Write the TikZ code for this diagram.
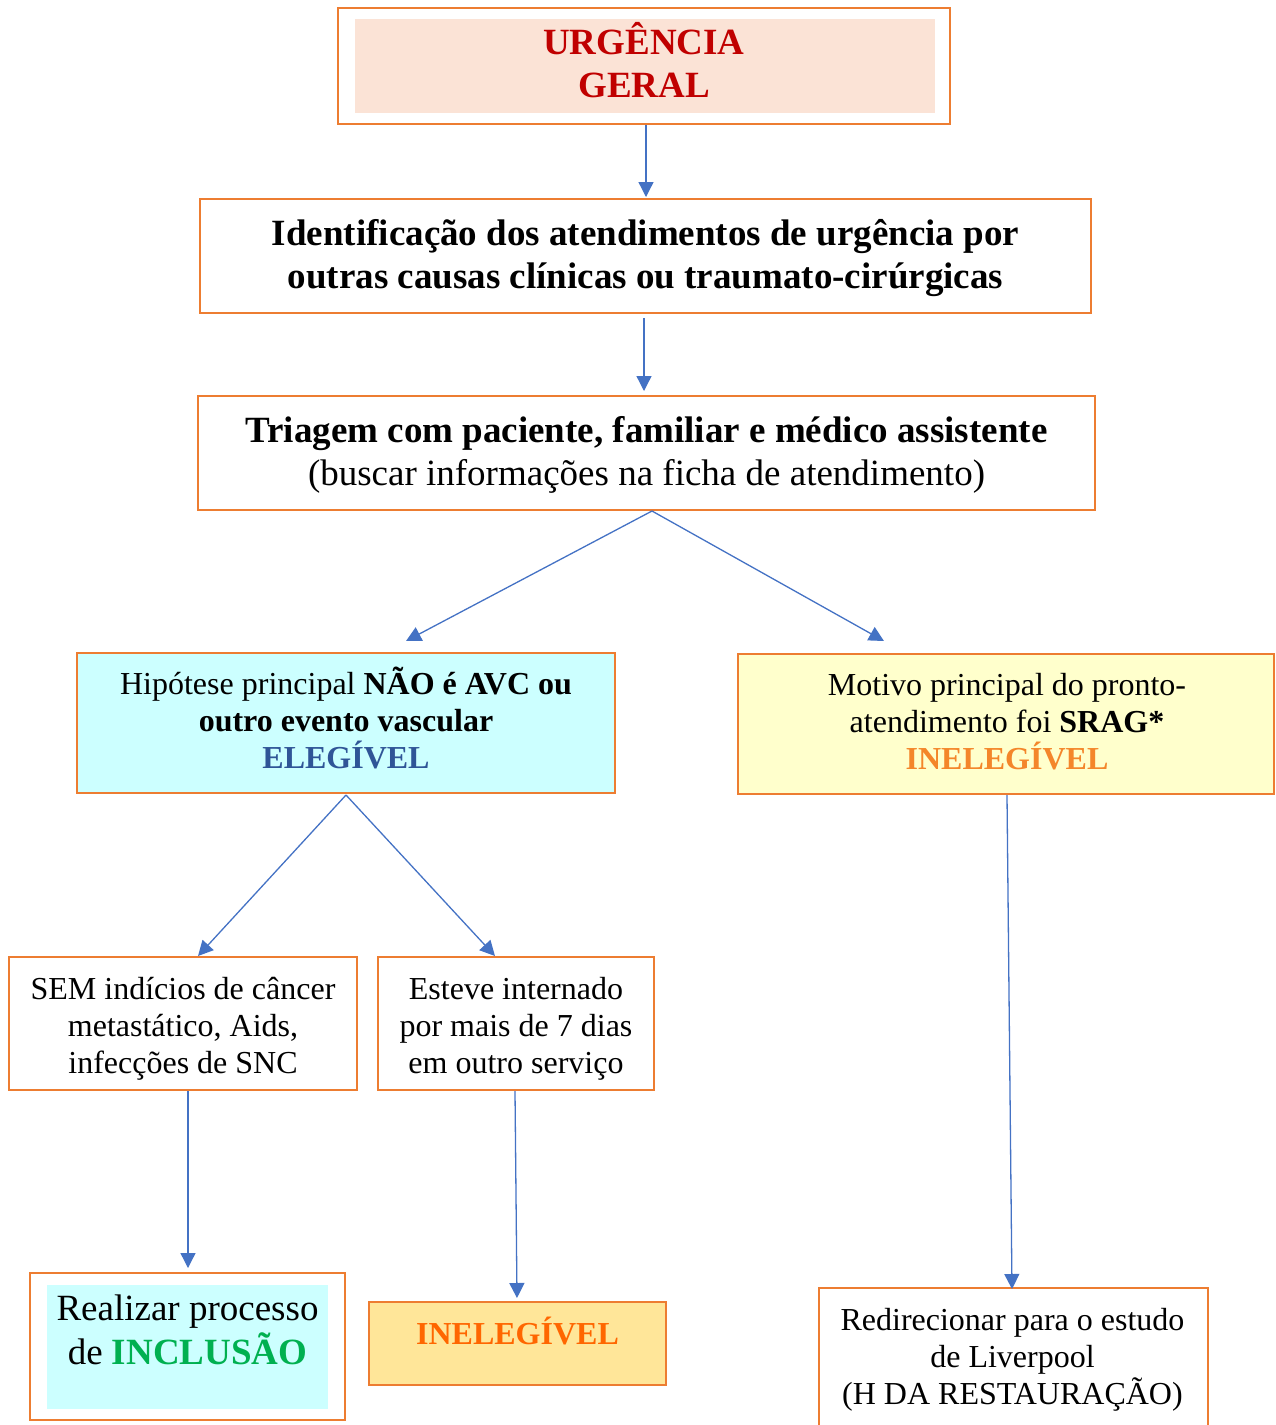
\documentclass[tikz,border=0pt]{standalone}
\usepackage{fontspec}
\setmainfont{Liberation Serif}
\usetikzlibrary{arrows.meta}

\definecolor{boxorange}{HTML}{ED7D31}
\definecolor{arrowblue}{HTML}{4472C4}
\definecolor{peach}{HTML}{FBE3D6}
\definecolor{lightcyan}{HTML}{CCFFFF}
\definecolor{lightyellow}{HTML}{FFFFCC}
\definecolor{paleorange}{HTML}{FFE699}
\definecolor{urgred}{HTML}{C00000}
\definecolor{elegblue}{HTML}{2F5597}
\definecolor{inelorange}{HTML}{FF6600}
\definecolor{srago}{HTML}{F4862A}
\definecolor{incgreen}{HTML}{00B050}

\newcommand{\largetxt}{\fontsize{37}{43.5}\selectfont}
\newcommand{\midtxt}{\fontsize{32}{37}\selectfont}

\tikzset{
  box/.style={draw=boxorange, line width=2.4pt, inner sep=0pt, outer sep=0pt},
  txt/.style={align=center, inner sep=0pt, text=black},
  arr/.style={draw=arrowblue, line width=1.3pt, -{Triangle[length=15pt,width=15pt]}},
}

\begin{document}
\begin{tikzpicture}[x=1pt,y=-1pt]
\useasboundingbox (0,0) rectangle (1275,1425);

% ---- first level
\node[box, fill=white, minimum width=612pt, minimum height=116pt] (urg) at (644,66) {};
\fill[peach] (355,19) rectangle (935,113);
\node[txt, font=\largetxt\bfseries, text=urgred] (urgtxt) at (644,60) {URGÊNCIA\\GERAL};

\node[box, minimum width=891pt, minimum height=114pt] (ident) at (645.5,256) {};
\node[txt, font=\largetxt\bfseries] (identtxt) at (645.5,258)
  {Identificação dos atendimentos de urgência por\\outras causas clínicas ou traumato-cirúrgicas};

\node[box, minimum width=897pt, minimum height=114pt] (triag) at (646.5,453) {};
\node[txt, font=\largetxt] (triagtxt) at (646.5,455)
  {\textbf{Triagem com paciente, familiar e médico assistente}\\(buscar informações na ficha de atendimento)};

% ---- second level
\node[box, fill=lightcyan, minimum width=538pt, minimum height=140pt] (hip) at (346,723) {};
\node[txt, font=\midtxt] (hiptxt) at (346,718)
  {Hipótese principal \textbf{NÃO é AVC ou}\\\textbf{outro evento vascular}\\\textbf{\color{elegblue}ELEGÍVEL}};

\node[box, fill=lightyellow, minimum width=536pt, minimum height=140pt] (motivo) at (1006,724) {};
\node[txt, font=\midtxt] (motivotxt) at (1007,722)
  {Motivo principal do pronto-\\atendimento foi \textbf{SRAG*}\\\textbf{\color{srago}INELEGÍVEL}};

% ---- third level
\node[box, minimum width=348pt, minimum height=133pt] (sem) at (183,1023.5) {};
\node[txt, font=\midtxt] (semtxt) at (183,1028.5)
  {SEM indícios de câncer\\metastático, Aids,\\infecções de SNC};

\node[box, minimum width=276pt, minimum height=133pt] (esteve) at (516,1023.5) {};
\node[txt, font=\midtxt] (estevetxt) at (516,1028.5)
  {Esteve internado\\por mais de 7 dias\\em outro serviço};

% ---- outcomes
\node[box, fill=white, minimum width=315pt, minimum height=147pt] (incl) at (187.5,1346.5) {};
\fill[lightcyan] (47,1285) rectangle (328,1409);
\node[txt, font=\largetxt] (incltxt) at (187.5,1330) {Realizar processo\\de \textbf{\color{incgreen}INCLUSÃO}};

\node[box, fill=paleorange, minimum width=297pt, minimum height=83pt] (inel) at (517.5,1343.5) {};
\node[txt, font=\midtxt\bfseries, text=inelorange] (ineltxt) at (517.5,1331) {INELEGÍVEL};

\node[box, minimum width=389pt, minimum height=150pt] (redir) at (1013.5,1363) {};
\node[txt, font=\midtxt] (redirtxt) at (1012.5,1360) {Redirecionar para o estudo\\de Liverpool\\(H DA RESTAURAÇÃO)};

% ---- arrow end points
\coordinate (t1s) at (646,125);
\coordinate (t1e) at (646,197);
\coordinate (t2s) at (644,318);
\coordinate (t2e) at (644,391);
\coordinate (tsplit) at (652,511);
\coordinate (tl) at (406,641);
\coordinate (tr) at (884,641);
\coordinate (hsplit) at (346,795);
\coordinate (hl) at (198,956);
\coordinate (hr) at (495,956);
\coordinate (ss) at (188,1091);
\coordinate (se) at (188,1268);
\coordinate (es) at (515,1091);
\coordinate (ee) at (517,1298);
\coordinate (ms) at (1007,795);
\coordinate (me) at (1012,1289);

% ---- connectors
\draw[arr] (t1s) -- (t1e);
\draw[arr] (t2s) -- (t2e);
\draw[arr] (tsplit) -- (tl);
\draw[arr] (tsplit) -- (tr);
\draw[arr] (hsplit) -- (hl);
\draw[arr] (hsplit) -- (hr);
\draw[arr] (ss) -- (se);
\draw[arr] (es) -- (ee);
\draw[arr] (ms) -- (me);
\end{tikzpicture}
\end{document}
